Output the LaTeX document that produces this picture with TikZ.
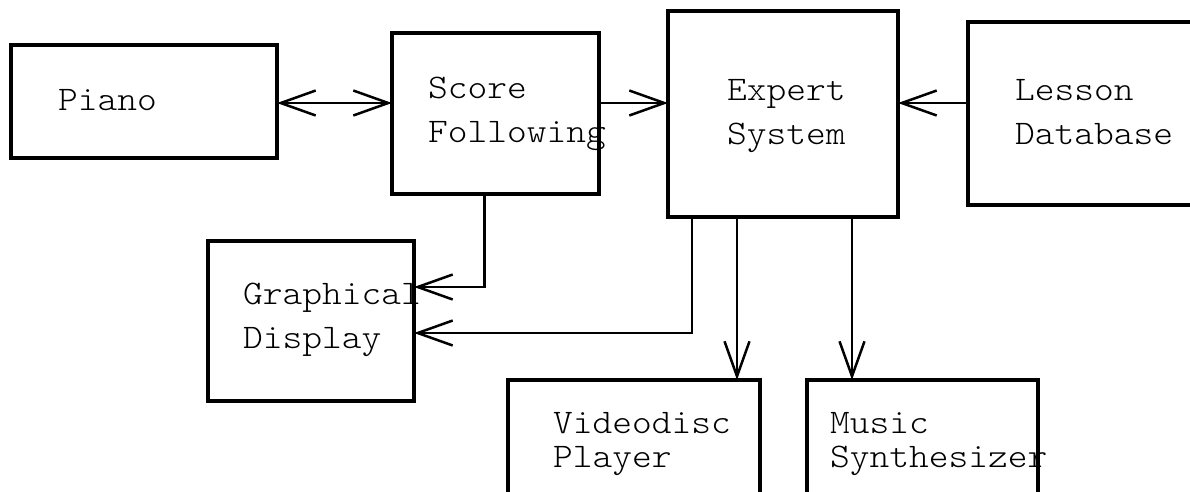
\documentclass[tikz,border=0pt]{standalone}
\usepackage{fontspec}
\newfontfamily\boxfont[FakeStretch=1.09]{Latin Modern Mono Light}
\usetikzlibrary{arrows.meta}

\begin{document}
\begin{tikzpicture}[
      x=1pt, y=-1pt,
      block/.style={draw, line width=4pt, anchor=north west, outer sep=0pt, inner sep=0pt},
      caption/.style={anchor=base west, align=left, inner sep=0pt,
                      font=\boxfont\fontsize{34.5pt}{44pt}\selectfont},
      tight/.style={font=\boxfont\fontsize{34.5pt}{34pt}\selectfont},
      arr/.style={->, line width=2.5pt, >={Straight Barb[length=35pt,width=25pt]}}
    ]
    \clip (0,0) rectangle (1190,491);

    % boxes
    \node[block, minimum width=266pt, minimum height=113pt] (piano)     at (11,45)   {};
    \node[block, minimum width=207pt, minimum height=161pt] (score)     at (392,33)  {};
    \node[block, minimum width=230pt, minimum height=206pt] (expert)    at (668,11)  {};
    \node[block, minimum width=230pt, minimum height=183pt] (lesson)    at (968,22)  {};
    \node[block, minimum width=206pt, minimum height=160pt] (graphical) at (208,241) {};
    \node[block, minimum width=252pt, minimum height=140pt] (videodisc) at (508,380) {};
    \node[block, minimum width=231pt, minimum height=140pt] (music)     at (807,380) {};

    % box texts (anchored on the baseline of the last line)
    \node[caption] (pianotext)     at (58,110)  {Piano};
    \node[caption] (scoretext)     at (428,142) {Score\\Following};
    \node[caption] (experttext)    at (727,144) {Expert\\System};
    \node[caption] (lessontext)    at (1015,144) {Lesson\\Database};
    \node[caption] (graphicaltext) at (243,348) {Graphical\\Display};
    \node[caption, tight] (videodisctext) at (553,467) {Videodisc\\Player};
    \node[caption, tight] (musictext)     at (830,467) {Music\\Synthesizer};

    % taps on the lower edges
    \coordinate (row)  at (0,103);
    \coordinate (tapS) at ([xshift=-11pt]score.south);
    \coordinate (tapA) at ([xshift=24pt]expert.south west);
    \coordinate (tapB) at ([xshift=69pt]expert.south west);
    \coordinate (tapC) at ([xshift=184pt]expert.south west);

    \draw[arr, <->] (piano.east |- row) -- (score.west |- row);
    \draw[arr] (score.east |- row) -- (expert.west |- row);
    \draw[arr] (lesson.west |- row) -- (expert.east |- row);
    \draw[arr] (tapS) |- ([yshift=34pt]graphical.east);
    \draw[arr] (tapA) |- ([yshift=-12pt]graphical.east);
    \draw[arr] (tapB) -- (tapB |- videodisc.north);
    \draw[arr] (tapC) -- (tapC |- music.north);
  \end{tikzpicture}
\end{document}
